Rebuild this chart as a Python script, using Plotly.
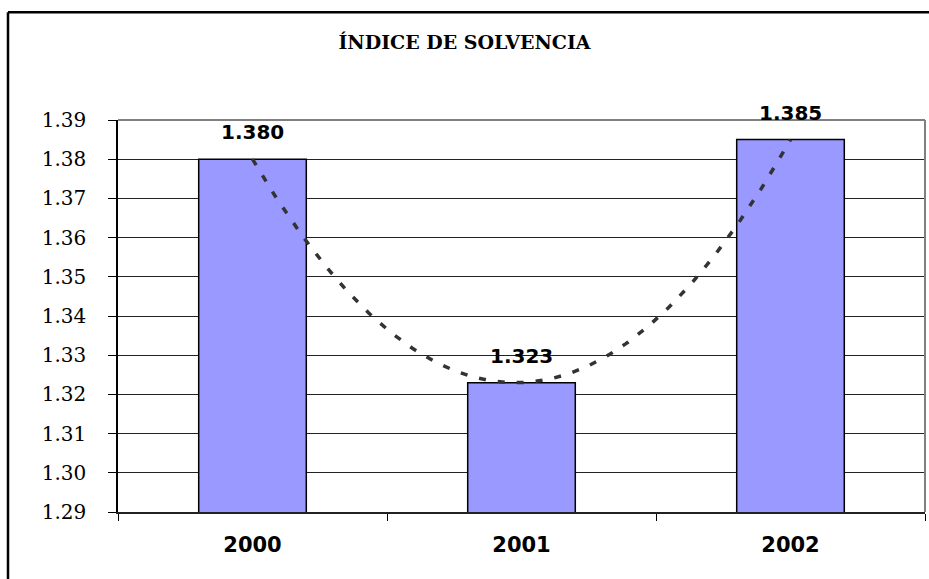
import numpy as np
import plotly.graph_objects as go

# ---- data ----
years = ["2000", "2001", "2002"]
solvencia = [1.380, 1.323, 1.385]
title_text = "ÍNDICE DE SOLVENCIA"
y_ticks = [1.29, 1.30, 1.31, 1.32, 1.33, 1.34, 1.35, 1.36, 1.37, 1.38, 1.39]

# polynomial (order 2) trendline, as Excel computes it from the bar values
xi = np.arange(len(years))
coef = np.polyfit(xi, solvencia, 2)
xt = np.linspace(0, len(years) - 1, 200)
yt = np.polyval(coef, xt)

W, H = 929, 579
PL, PR, PT, PB = 118, 4, 119.5, 67
pw = W - PL - PR
ph = H - PT - PB

fig = go.Figure()
fig.add_trace(go.Bar(
    x=years, y=solvencia, width=0.4,
    marker=dict(color="#9999FF", line=dict(color="black", width=1.5)),
    hoverinfo="skip", showlegend=False,
))
fig.add_trace(go.Scatter(
    x=xt, y=yt, xaxis="x2", mode="lines",
    line=dict(color="#333333", width=3.5, dash="7px,12px"),
    hoverinfo="skip", showlegend=False,
))

for i, v in enumerate(solvencia):
    fig.add_annotation(x=i, y=v, xref="x", yref="y", text=f"<b>{v:.3f}</b>",
                       showarrow=False, yanchor="middle", yshift=27,
                       font=dict(family="DejaVu Sans", size=20, color="black"))

fig.update_layout(
    width=W, height=H,
    margin=dict(l=PL, r=PR, t=PT, b=PB),
    paper_bgcolor="white", plot_bgcolor="white",
    title=dict(text=f"<b>{title_text}</b>", x=464.5 / W, xanchor="center",
               y=1 - 42 / H, yanchor="middle",
               font=dict(family="DejaVu Serif", size=19, color="black")),
    xaxis=dict(type="category", range=[-0.5, 2.5], tickson="boundaries",
               ticks="outside", ticklen=7, tickcolor="black", tickwidth=1,
               showline=True, linecolor="#222222", linewidth=2,
               showgrid=False, ticklabelstandoff=13,
               tickfont=dict(family="DejaVu Sans", size=21, color="black"),
               tickprefix="<b>", ticksuffix="</b>"),
    xaxis2=dict(overlaying="x", range=[-0.5, 2.5], visible=False),
    yaxis=dict(range=[1.29, 1.39], tickvals=y_ticks, tickformat=".2f",
               ticks="outside", ticklen=8, tickcolor="black", tickwidth=1,
               showline=True, linecolor="black", linewidth=1.5,
               showgrid=True, gridcolor="#222222", gridwidth=1,
               zeroline=False, ticklabelstandoff=18,
               tickfont=dict(family="DejaVu Serif", size=20, color="black")),
    bargap=0.6,
)

# plot-area border (top and right in gray)
fig.add_shape(type="line", xref="paper", yref="paper", x0=0, x1=1, y0=1, y1=1,
              line=dict(color="#808080", width=2), layer="above")
fig.add_shape(type="line", xref="paper", yref="paper", x0=1, x1=1, y0=0, y1=1,
              line=dict(color="#808080", width=2), layer="above")
# chart-area border (left and top, black)
bx = (8 - PL) / pw
by = (H - PB - 11.5) / ph
fig.add_shape(type="line", xref="paper", yref="paper",
              x0=bx, x1=1.2, y0=by, y1=by,
              line=dict(color="black", width=2.5), layer="above")
fig.add_shape(type="line", xref="paper", yref="paper",
              x0=bx, x1=bx, y0=-0.5, y1=by,
              line=dict(color="black", width=2.5), layer="above")

fig.write_html(
    "out.html",
    config={"displayModeBar": False},
    post_script="document.body.style.margin='0';document.body.style.overflow='hidden';",
)
